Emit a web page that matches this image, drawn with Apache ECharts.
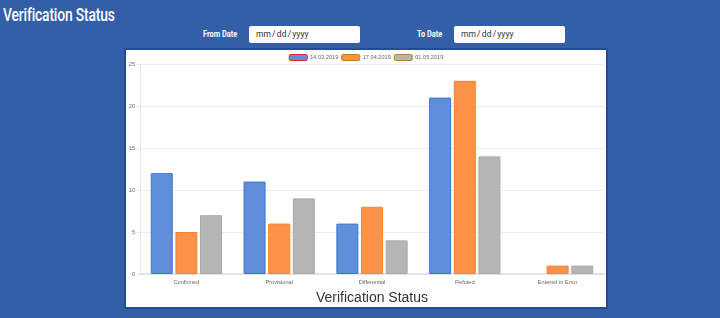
<!DOCTYPE html>
<html>
<head>
<meta charset="utf-8">
<script src="https://cdn.jsdelivr.net/npm/echarts@6/dist/echarts.min.js"></script>
<style>
  html, body { margin:0; padding:0; width:720px; height:318px; overflow:hidden; background:#355ea9; font-family:"Roboto","Liberation Sans",sans-serif; }
  #title { position:absolute; left:3px; top:4px; color:#fff; font-size:18px; font-weight:500; transform:scaleX(0.77); transform-origin:left top; white-space:nowrap; letter-spacing:-0.2px; }
  .lbl { position:absolute; top:29px; color:#fff; font-size:9px; font-weight:bold; transform:scaleX(0.82); transform-origin:left top; white-space:nowrap; }
  .inp { position:absolute; top:26px; width:111px; height:17px; background:#fff; border-radius:2px; box-sizing:border-box; padding-left:7px; font-size:8.5px; line-height:17px; color:#333; word-spacing:-0.9px; }
  #panel { position:absolute; left:124px; top:48px; width:480px; height:257px; border:2px solid #244b95; background:#fff; }
  #chart { width:480px; height:257px; }
</style>
</head>
<body>
<div id="title">Verification Status</div>
<div class="lbl" style="left:203px;">From Date</div>
<div class="inp" style="left:249px;">mm / dd / yyyy</div>
<div class="lbl" style="left:417px;">To Date</div>
<div class="inp" style="left:454px;">mm / dd / yyyy</div>
<div id="panel"><div id="chart"></div></div>
<script>
const categories = ["Confirmed", "Provisional", "Differential", "Refuted", "Entered in Error"];
const seriesNames = ["14.03.2019", "17.04.2019", "01.05.2019"];
const values1 = [12, 11, 6, 21, 0];
const values2 = [5, 6, 8, 23, 1];
const values3 = [7, 9, 4, 14, 1];
const yTicks = { min: 0, max: 25, interval: 5 };

const fills = ["#5f8fd8", "#ff9249", "#b5b5b5"];
const borders = ["#3f74cf", "#ff8030", "#a9a9a9"];
const legendBorders = ["#e0242a", "#c8761e", "#b0822e"];
const allValues = [values1, values2, values3];

const chart = echarts.init(document.getElementById('chart'), null, { renderer: 'canvas' });
chart.setOption({
  animation: false,
  backgroundColor: '#fff',
  legend: {
    top: 4,
    left: 'center',
    padding: 0,
    itemWidth: 18,
    itemHeight: 6,
    itemGap: 3,
    textStyle: { fontSize: 5.6, color: '#666', padding: [0, 0, 0, -2] },
    data: seriesNames.map((n, i) => ({ name: n, itemStyle: { color: fills[i], borderColor: legendBorders[i], borderWidth: 1 } }))
  },
  grid: { left: 14, right: 2, top: 14, bottom: 33, containLabel: false, outerBoundsMode: 'none' },
  xAxis: {
    type: 'category',
    data: categories,
    name: 'Verification Status',
    nameLocation: 'middle',
    nameGap: 17,
    nameTextStyle: { fontSize: 14, color: '#333', fontFamily: 'Liberation Sans' },
    axisLine: { lineStyle: { color: '#dcdcdc', width: 1.5 } },
    axisTick: { show: false },
    axisLabel: { fontSize: 5.6, color: '#666', margin: 5 },
    splitLine: { show: false }
  },
  yAxis: {
    type: 'value',
    min: yTicks.min, max: yTicks.max, interval: yTicks.interval,
    axisLine: { show: true, lineStyle: { color: '#e8e8e8' } },
    axisTick: { show: true, length: 4, lineStyle: { color: '#e8e8e8' } },
    axisLabel: { fontSize: 5.6, color: '#666', margin: 5 },
    splitLine: { lineStyle: { color: '#ececec' } }
  },
  series: allValues.map((v, i) => ({
    name: seriesNames[i],
    type: 'bar',
    data: v.map(x => ({ value: x, itemStyle: { borderWidth: x === 0 ? 0 : 1 } })),
    barWidth: 22,
    barGap: '12%',
    itemStyle: { color: fills[i], borderColor: borders[i], borderWidth: 1 }
  }))
});
</script>
</body>
</html>
